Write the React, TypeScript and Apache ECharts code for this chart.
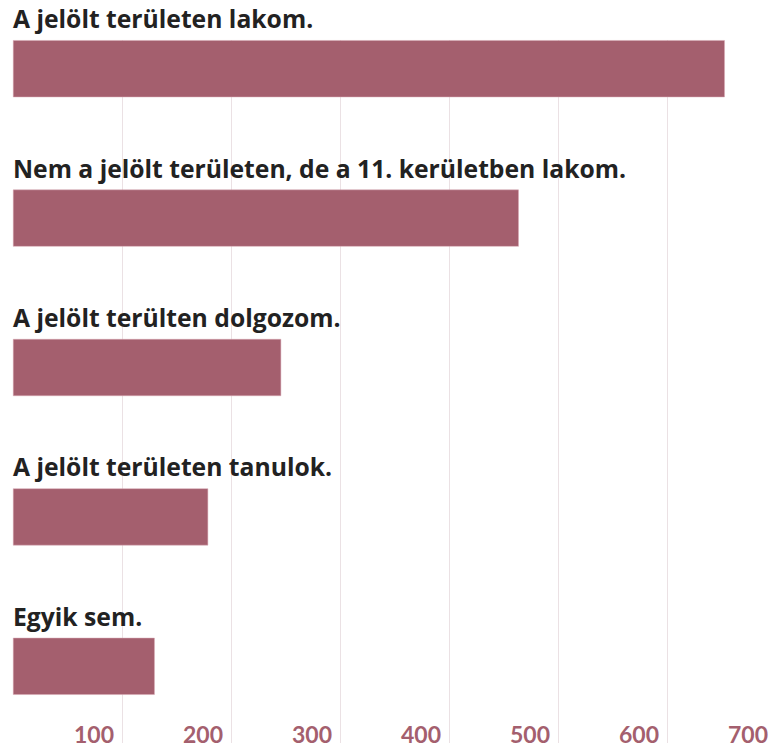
import React, { useEffect, useRef } from "react";
import * as echarts from "echarts";

const categories = [
  "A jelölt területen lakom.",
  "Nem a jelölt területen, de a 11. kerületben lakom.",
  "A jelölt terülten dolgozom.",
  "A jelölt területen tanulok.",
  "Egyik sem.",
];
const values = [653, 464, 246, 179, 130];
const tickMin = 0;
const tickMax = 700;
const tickInterval = 100;

const BAR = "#A45F6E";
const GRID = "#EBE1E4";
const SHIFT = 6;
const EXTRA_W = 8;

export default function App() {
  const ref = useRef<HTMLDivElement>(null);
  useEffect(() => {
    if (!ref.current) return;
    const chart = echarts.init(ref.current, null, { renderer: "svg" });
    const gridColors = ["rgba(0,0,0,0)"];
    for (let i = 0; i < 20; i++) gridColors.push(GRID);
    chart.setOption({
      animation: false,
      grid: [
        { left: 13, right: 4, top: 0, height: 747, containLabel: false },
        { left: 13, right: 4, top: 40 + SHIFT, bottom: 5, containLabel: false },
      ],
      xAxis: [
        { gridIndex: 0, type: "value", min: tickMin, max: tickMax, interval: tickInterval, show: false },
        {
          gridIndex: 1,
          type: "value",
          min: tickMin,
          max: tickMax,
          interval: tickInterval,
          position: "bottom",
          axisLine: { show: false },
          axisTick: { show: false },
          splitLine: { show: true, lineStyle: { color: gridColors, width: 1 } },
          axisLabel: {
            inside: true,
            showMinLabel: false,
            showMaxLabel: true,
            align: "right",
            verticalAlign: "bottom",
            margin: -2,
            padding: [0, 8, 0, 0],
            color: BAR,
            fontFamily: "Lato",
            fontWeight: "bold",
            fontSize: 23,
          },
        },
      ],
      yAxis: [
        { gridIndex: 0, type: "category", data: categories, inverse: true, show: false },
        { gridIndex: 1, type: "value", show: false },
      ],
      series: [
        {
          type: "bar",
          xAxisIndex: 0,
          yAxisIndex: 0,
          data: values,
          barWidth: 57,
          itemStyle: { color: BAR, borderColor: "#D9A9B5", borderWidth: 0.5 },
          label: {
            show: true,
            position: [0, -9],
            align: "left",
            verticalAlign: "bottom",
            formatter: "{b}",
            color: "#222222",
            fontFamily: "Open Sans",
            fontWeight: "bold",
            fontSize: 24.7,
          },
          z: 3,
        },
      ],
    });
    return () => chart.dispose();
  }, []);
  return (
    <div style={{ position: "absolute", left: 0, top: 0, width: 772, height: 748, overflow: "hidden" }}>
      <div
        ref={ref}
        style={{ width: 772 + EXTRA_W, height: 748 + SHIFT, position: "absolute", left: 0, top: -SHIFT }}
      />
    </div>
  );
}
